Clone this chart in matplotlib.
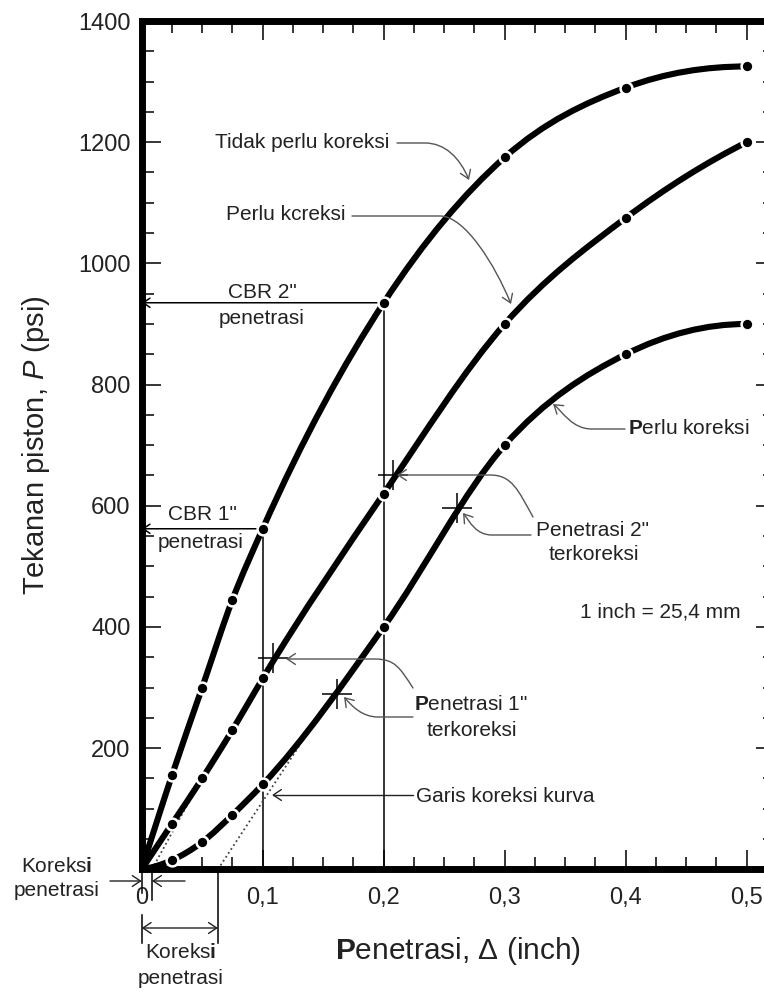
import numpy as np
import matplotlib
matplotlib.use("Agg")
import matplotlib.pyplot as plt
from matplotlib.path import Path
from matplotlib.patches import PathPatch, FancyArrowPatch
from matplotlib.transforms import Affine2D, blended_transform_factory
from matplotlib.ticker import MultipleLocator

plt.rcParams['font.family'] = ['Liberation Sans', 'DejaVu Sans']
plt.rcParams['mathtext.fontset'] = 'custom'
plt.rcParams['mathtext.rm'] = 'Liberation Sans'
plt.rcParams['mathtext.it'] = 'Liberation Sans:italic'
plt.rcParams['mathtext.bf'] = 'Liberation Sans:bold'

# ---------------- data ----------------
penetrasi = [0.0, 0.025, 0.05, 0.075, 0.1, 0.2, 0.3, 0.4, 0.5]
tekanan_tidak_perlu = [0, 155, 300, 445, 562, 935, 1175, 1290, 1325]
tekanan_perlu_a = [0, 75, 150, 230, 315, 620, 900, 1075, 1200]
tekanan_perlu_b = [0, 15, 45, 90, 140, 400, 700, 850, 900]

koreksi = [0.0085, 0.063]
garis_koreksi_a_x = [0.0085, 0.040]
garis_koreksi_a_y = [0, 115]
garis_koreksi_b_x = [0.063, 0.130]
garis_koreksi_b_y = [0, 203]

bintang_a_x = [0.1088, 0.2077]
bintang_a_y = [348, 650]
bintang_b_x = [0.161, 0.2606]
bintang_b_y = [290, 596]

cbr_x = [0.1, 0.2]
cbr_y = [562, 935]

xticks = [0, 0.1, 0.2, 0.3, 0.4, 0.5]
xtick_labels = ['0', '0,1', '0,2', '0,3', '0,4', '0,5']
yticks = [200, 400, 600, 800, 1000, 1200, 1400]
ytick_labels = ['200', '400', '600', '800', '1000', '1200', '1400']

# ---------------- figure ----------------
W, H = 764, 992
fig = plt.figure(figsize=(W / 100, H / 100), dpi=100)
fig.patch.set_facecolor('white')
ax = fig.add_axes([141.7 / W, (H - 869.3) / H, 633.3 / W, 848.3 / H])
ax.set_xlim(0, 0.5234)
ax.set_ylim(0, 1400)

PX = Affine2D().scale(1 / W, -1 / H).translate(0, 1) + fig.transFigure
KB = blended_transform_factory(ax.transData, PX)

for s in ax.spines.values():
    s.set_linewidth(5)
ax.set_xticks(xticks, xtick_labels)
ax.set_yticks(yticks, ytick_labels)
ax.xaxis.set_minor_locator(MultipleLocator(0.025))
ax.yaxis.set_minor_locator(MultipleLocator(50))
ax.tick_params(which='both', direction='in', top=True, right=True, width=1.1,
               labelsize=17, labelcolor='#222')
ax.tick_params(which='major', length=13.5)
ax.tick_params(which='minor', length=8.5)
ax.tick_params(axis='x', pad=13)
ax.tick_params(axis='y', pad=8)


def hermite_path(x, y):
    x = np.asarray(x, float)
    y = np.asarray(y, float)
    h = np.diff(x)
    d = np.diff(y) / h
    n = len(x)
    m = np.zeros(n)
    for i in range(1, n - 1):
        m[i] = (h[i] * d[i - 1] + h[i - 1] * d[i]) / (h[i - 1] + h[i])
    m[0] = max(2 * d[0] - m[1], 0)
    m[-1] = max(2 * d[-1] - m[-2], 0)
    verts = [(x[0], y[0])]
    codes = [Path.MOVETO]
    for i in range(n - 1):
        verts += [(x[i] + h[i] / 3, y[i] + m[i] * h[i] / 3),
                  (x[i + 1] - h[i] / 3, y[i + 1] - m[i + 1] * h[i] / 3),
                  (x[i + 1], y[i + 1])]
        codes += [Path.CURVE4] * 3
    return Path(verts, codes)


# reference lines (CBR)
for cx, cy in zip(cbr_x, cbr_y):
    ax.plot([cx, cx], [0, cy], color='black', lw=1.1, zorder=1)
    ax.annotate('', xy=(0, cy), xytext=(cx, cy),
                arrowprops=dict(arrowstyle='->,head_length=0.45,head_width=0.3',
                                mutation_scale=11, lw=1.1, color='black',
                                shrinkA=0, shrinkB=0), zorder=1)

# dotted correction lines
ax.plot(garis_koreksi_a_x, garis_koreksi_a_y, ls=(0, (1, 1.6)), color='#444', lw=1.3, zorder=1)
ax.plot(garis_koreksi_b_x, garis_koreksi_b_y, ls=(0, (1, 1.6)), color='#444', lw=1.3, zorder=1)

# curves
for yy in (tekanan_tidak_perlu, tekanan_perlu_a, tekanan_perlu_b):
    ax.add_patch(PathPatch(hermite_path(penetrasi, yy), fill=False, lw=4.4,
                           edgecolor='black', capstyle='round', zorder=3))
    ax.plot(penetrasi[1:], yy[1:], 'o', ms=8.5, mfc='black', mec='white', mew=1.8, zorder=4)

# corrected points
ax.plot(bintang_a_x, bintang_a_y, '+', ms=21, mew=1.1, color='black', zorder=5)
ax.plot(bintang_b_x, bintang_b_y, '+', ms=21, mew=1.1, color='black', zorder=5)

# ---------------- texts ----------------
TXT = dict(fontsize=15, color='#222', transform=PX, va='center')


def t(x, y, s, ha='center'):
    fig.text(x, y, s, ha=ha, **TXT)


t(302.5, 143, 'Tidak perlu koreksi')
t(286, 215, 'Perlu kcreksi')
t(262, 292, 'CBR 2"')
t(262, 318, 'penetrasi')
t(202, 514, 'CBR 1"')
t(201, 542, 'penetrasi')
t(628, 429, r'$\mathbf{P}$erlu koreksi', ha='left')
t(592, 530, 'Penetrasi 2"')
t(594, 555, 'terkoreksi')
t(471, 705, r'$\mathbf{P}$enetrasi 1"')
t(472, 730, 'terkoreksi')
t(416, 797, 'Garis koreksi kurva', ha='left')
t(580, 612, '1 inch = 25,4 mm', ha='left')
t(57, 867, r'Koreks$\mathbf{i}$')
t(57, 891, 'penetrasi')
t(181, 953, r'Koreks$\mathbf{i}$')
t(181, 978, 'penetrasi')

fig.text(457.5, 951, r'$\mathbf{P}$enetrasi, Δ (inch)', transform=PX, fontsize=21.5,
         color='#222', ha='center', va='center')
fig.text(36, 445, r'Tekanan piston, $P$ (psi)', transform=PX, fontsize=21,
         color='#222', ha='center', va='center', rotation=90)

# ---------------- annotation arrows ----------------
AST = '->,head_length=0.45,head_width=0.3'
M, C, L = Path.MOVETO, Path.CURVE4, Path.LINETO


def arrow(verts, codes, color='#555'):
    fig.add_artist(FancyArrowPatch(path=Path(verts, codes), arrowstyle=AST,
                                   mutation_scale=13, lw=1.0, color=color,
                                   transform=PX))


arrow([(397, 143), (425, 143), (445, 143), (460, 158), (469, 180)], [M, L, C, C, C])
arrow([(352, 216), (440, 216), (465, 216), (495, 265), (511, 304)], [M, L, C, C, C])
arrow([(625, 429), (592, 429), (572, 429), (563, 412), (553, 404)], [M, L, C, C, C])
arrow([(533, 517), (518, 490), (512, 475), (490, 475), (397, 475)], [M, C, C, C, L])
arrow([(531, 535), (492, 535), (476, 535), (470, 522), (463, 513)], [M, L, C, C, C])
arrow([(413, 688), (400, 668), (395, 659), (375, 659), (286, 659)], [M, C, C, C, L])
arrow([(413, 717), (378, 717), (362, 717), (352, 706), (344, 697)], [M, L, C, C, C])
arrow([(413, 795), (272, 795)], [M, L], color='#222')

# koreksi penetrasi dimension marks (below axis)
ax.plot([0, 0], [869, 893], transform=KB, clip_on=False, color='black', lw=1.1)
ax.plot([koreksi[0], koreksi[0]], [869, 900], transform=KB, clip_on=False, color='black', lw=1.1)
for x0, x1 in ((-0.0262, 0), (0.0358, koreksi[0])):
    ax.annotate('', xy=(x1, 881), xytext=(x0, 881), xycoords=KB, textcoords=KB,
                annotation_clip=False,
                arrowprops=dict(arrowstyle=AST, mutation_scale=13, lw=1.0, color='#222',
                                shrinkA=0, shrinkB=0))
ax.plot([0, 0], [915, 943], transform=KB, clip_on=False, color='black', lw=1.1)
ax.plot([koreksi[1], koreksi[1]], [869, 943], transform=KB, clip_on=False, color='black', lw=1.1)
ax.annotate('', xy=(koreksi[1], 928), xytext=(0, 928), xycoords=KB, textcoords=KB,
            annotation_clip=False,
            arrowprops=dict(arrowstyle='<->,head_length=0.45,head_width=0.3',
                            mutation_scale=13, lw=1.0, color='#222', shrinkA=0, shrinkB=0))

fig.savefig('out.png', dpi=100, facecolor='white')
